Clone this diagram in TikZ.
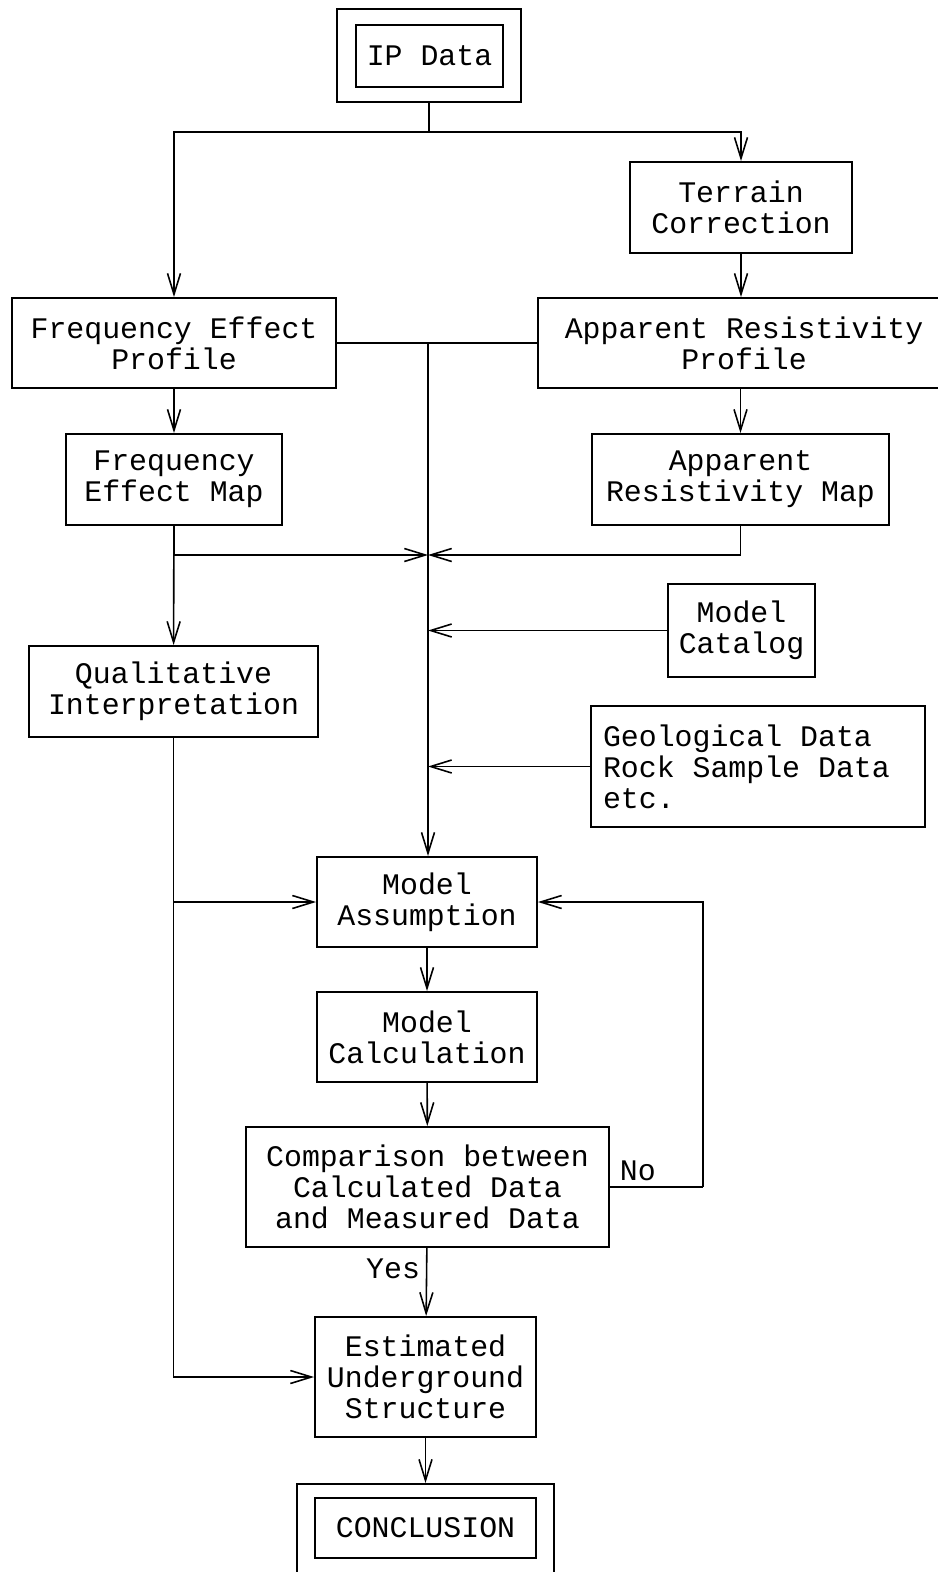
\documentclass[tikz,border=0pt]{standalone}
\usepackage{fontspec}
\setmainfont{Liberation Mono}
\usetikzlibrary{arrows.meta}
\newcommand\boxfont{\fontsize{17}{17.6}\selectfont}
\begin{document}
\begin{tikzpicture}[x=0.02cm,y=-0.02cm,>={Straight Barb[length=4.2mm,width=2.6mm]},
	every node/.style={font=\boxfont},
	blk/.style={draw,line width=1.1pt,inner sep=0pt,align=center},
	link/.style={line width=0.9pt}]
	\useasboundingbox (0,0) rectangle (937,1572);
	\node[blk,minimum width=3.68cm,minimum height=1.86cm] (ipout) at (429,55.5) {};
	\node[blk,minimum width=2.94cm,minimum height=1.24cm] (ipin) at (429.5,56) {IP Data};
	\node[blk,minimum width=4.44cm,minimum height=1.82cm] (terrain) at (741,207.5) {Terrain\\Correction};
	\node[blk,minimum width=6.48cm,minimum height=1.8cm] (feprof) at (174,343) {Frequency Effect\\Profile};
	\node[blk,minimum width=8.24cm,minimum height=1.8cm] (arprof) at (744,343) {Apparent Resistivity\\Profile};
	\node[blk,minimum width=4.32cm,minimum height=1.82cm] (femap) at (174,479.5) {Frequency\\Effect Map};
	\node[blk,minimum width=5.94cm,minimum height=1.82cm] (armap) at (740.5,479.5) {Apparent\\Resistivity Map};
	\node[blk,minimum width=5.78cm,minimum height=1.82cm] (qual) at (173.5,691.5) {Qualitative\\Interpretation};
	\node[blk,minimum width=2.94cm,minimum height=1.86cm] (catalog) at (741.5,630.5) {Model\\Catalog};
	\node[blk,minimum width=6.68cm,minimum height=2.42cm,text width=6.2cm,align=flush left] (geo) at (758,766.5) {Geological Data\\Rock Sample Data\\etc.};
	\node[blk,minimum width=4.4cm,minimum height=1.8cm] (assume) at (427,902) {Model\\Assumption};
	\node[blk,minimum width=4.4cm,minimum height=1.8cm] (calc) at (427,1037) {Model\\Calculation};
	\node[blk,minimum width=7.26cm,minimum height=2.4cm] (compare) at (427.5,1187) {Comparison between\\Calculated Data\\and Measured Data};
	\node[blk,minimum width=4.42cm,minimum height=2.4cm] (estim) at (425.5,1377) {Estimated\\Underground\\Structure};
	\node[blk,minimum width=5.14cm,minimum height=2.02cm] (concout) at (425.5,1534.5) {};
	\node[blk,minimum width=4.42cm,minimum height=1.2cm] (concin) at (425.5,1528) {CONCLUSION};
	\coordinate (split) at (429,132);
	\coordinate (bus) at (428,342);
	\coordinate (meet) at (428,555);
	\coordinate (loop) at (703,1187);
	\draw[link] (ipout) -- (split);
	\draw[link,->] (split) -| (feprof);
	\draw[link,->] (split) -| (terrain);
	\draw[link,->] (terrain) -- (terrain |- arprof.north);
	\draw[link] (feprof) -- (arprof);
	\draw[link,->] (bus) -- (bus |- assume.north);
	\draw[link,->] (feprof) -- (femap);
	\draw[link,->] (armap.north |- arprof.south) -- (armap);
	\draw[link,->] (femap) -- (qual);
	\draw[link,->] (femap.south) |- (meet);
	\draw[link,->] (armap.south) |- (meet);
	\draw[link,->] (catalog) -- (bus |- catalog.west);
	\draw[link,->] (geo) -- (bus |- geo.west);
	\draw[link,->] (qual.south) |- (estim);
	\draw[link,->] (qual.south |- assume.west) -- (assume);
	\draw[link,->] (assume) -- (calc);
	\draw[link,->] (calc) -- (compare);
	\draw[link,->] (compare) -- node[left,pos=0.3] {Yes} (estim);
	\draw[link] (compare) -- node[above,pos=0.3] {No} (loop);
	\draw[link,->] (loop) |- (assume);
	\draw[link,->] (estim) -- (concout);
\end{tikzpicture}
\end{document}
